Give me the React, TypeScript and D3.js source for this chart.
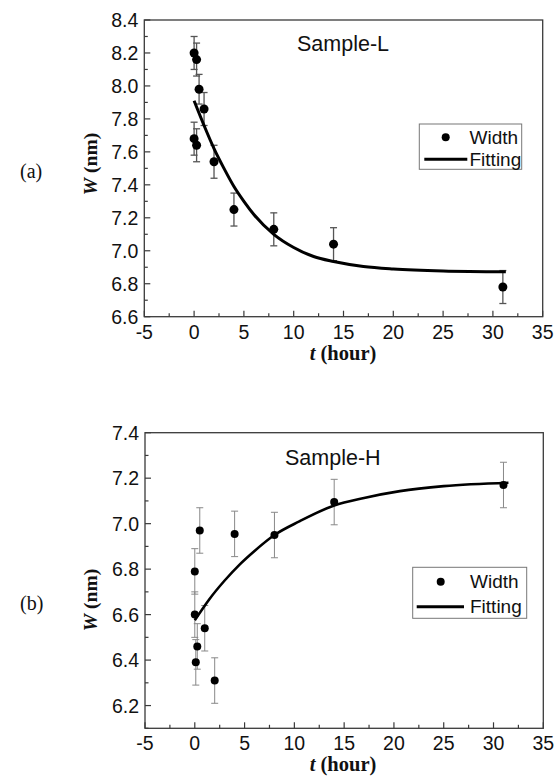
import React from "react";
import * as d3 from "d3";

// Sample-L measurements
const timesL = [0, 0.25, 0.5, 1, 0, 0.25, 2, 4, 8, 14, 31];
const widthL = [8.2, 8.16, 7.98, 7.86, 7.68, 7.64, 7.54, 7.25, 7.13, 7.04, 6.78];
const errL = [0.1, 0.1, 0.09, 0.1, 0.1, 0.1, 0.1, 0.1, 0.1, 0.1, 0.1];
// fitted curve
const fitTimesL = [0, 1, 2, 3, 4, 5, 6, 8, 10, 12, 14, 17, 20, 25, 31.3];
const fitL = [7.91, 7.76, 7.62, 7.5, 7.39, 7.3, 7.22, 7.1, 7.02, 6.965, 6.935, 6.905, 6.89, 6.878, 6.873];

// Sample-H measurements
const timesH = [0, 0.5, 4, 8, 14, 31, 0, 0.25, 0.1, 1, 2];
const widthH = [6.79, 6.97, 6.955, 6.95, 7.095, 7.17, 6.6, 6.46, 6.39, 6.54, 6.31];
const errH = [0.1, 0.1, 0.1, 0.1, 0.1, 0.1, 0.1, 0.1, 0.1, 0.1, 0.1];
const fitTimesH = [0, 1.5, 3, 4.5, 6, 8, 10.5, 14, 17, 20.6, 25, 31.5];
const fitH = [6.575, 6.67, 6.75, 6.82, 6.88, 6.95, 7.01, 7.08, 7.113, 7.143, 7.165, 7.18];

const xTicks = [-5, 0, 5, 10, 15, 20, 25, 30, 35];
const yTicksL = [6.6, 6.8, 7.0, 7.2, 7.4, 7.6, 7.8, 8.0, 8.2, 8.4];
const yTicksH = [6.2, 6.4, 6.6, 6.8, 7.0, 7.2, 7.4];

const SANS = "'Liberation Sans', Arial, sans-serif";
const SERIF = "'Liberation Serif', 'Times New Roman', serif";
const AXIS = "#3a3a3a";

type PanelProps = {
  box: { left: number; right: number; top: number; bottom: number };
  yDomain: [number, number];
  yTicks: number[];
  times: number[];
  widths: number[];
  errs: number[];
  fitTimes: number[];
  fit: number[];
  title: string;
  titlePos: [number, number];
  legend: { x0: number; y0: number; x1: number; y1: number; dot: [number, number]; line: [number, number, number]; textX: number; wY: number; fY: number };
  letter: string;
  letterPos: [number, number];
  yTitleCenter: number;
  dotR: number;
  errColor: string;
  errWidth: number;
  fitWidth: number;
};

function Panel(p: PanelProps) {
  const { box } = p;
  const x = d3.scaleLinear().domain([-5, 35]).range([box.left, box.right]);
  const y = d3.scaleLinear().domain(p.yDomain).range([box.bottom, box.top]);

  const minorX = d3.range(-5, 35.01, 2.5);
  const minorY = d3.range(Math.round(p.yDomain[0] * 10), Math.round(p.yDomain[1] * 10) + 1).map((v) => v / 10);

  const line = d3
    .line<number>()
    .x((d, i) => x(p.fitTimes[i]))
    .y((d) => y(d))
    .curve(d3.curveMonotoneX);

  return (
    <g>
      {/* frame */}
      <rect x={box.left} y={box.top} width={box.right - box.left} height={box.bottom - box.top} fill="none" stroke={AXIS} strokeWidth={1.3} />
      {minorX.map((t) => {
        const major = xTicks.includes(t);
        return <line key={"mx" + t} x1={x(t)} x2={x(t)} y1={box.bottom} y2={box.bottom - (major ? 6 : 3.5)} stroke={AXIS} strokeWidth={1.2} />;
      })}
      {minorY.map((v) => {
        const major = p.yTicks.some((t) => Math.abs(t - v) < 1e-6);
        return <line key={"my" + v} x1={box.left} x2={box.left + (major ? 6 : 3.5)} y1={y(v)} y2={y(v)} stroke={AXIS} strokeWidth={1.2} />;
      })}
      {xTicks.map((t) => (
        <text key={"xl" + t} x={x(t)} y={box.bottom + 22} textAnchor="middle" fontFamily={SANS} fontSize={19.5} fill="#111">
          {t}
        </text>
      ))}
      {p.yTicks.map((v) => (
        <text key={"yl" + v} x={box.left - 6} y={y(v) + 7} textAnchor="end" fontFamily={SANS} fontSize={19.5} fill="#111">
          {d3.format(".1f")(v)}
        </text>
      ))}
      {/* axis titles */}
      <text x={343} y={box.bottom + 43} textAnchor="middle" fontFamily={SERIF} fontWeight="bold" fontSize={20.5} fill="#111">
        <tspan fontStyle="italic">t</tspan> (hour)
      </text>
      <text transform={`translate(97,${p.yTitleCenter}) rotate(-90)`} textAnchor="middle" fontFamily={SERIF} fontWeight="bold" fontSize={19.5} fill="#111">
        <tspan fontStyle="italic">W</tspan> (nm)
      </text>
      <text x={p.letterPos[0]} y={p.letterPos[1]} fontFamily={SERIF} fontSize={20} fill="#111">
        {p.letter}
      </text>
      <text x={p.titlePos[0]} y={p.titlePos[1]} fontFamily={SANS} fontSize={21.5} fill="#111">
        {p.title}
      </text>

      {/* error bars */}
      {p.times.map((t, i) => {
        const cx = x(t);
        const yTop = y(p.widths[i] + p.errs[i]);
        const yBot = y(p.widths[i] - p.errs[i]);
        return (
          <g key={"e" + i} stroke={p.errColor} strokeWidth={p.errWidth}>
            <line x1={cx} x2={cx} y1={yTop} y2={yBot} />
            <line x1={cx - 3.5} x2={cx + 3.5} y1={yTop} y2={yTop} />
            <line x1={cx - 3.5} x2={cx + 3.5} y1={yBot} y2={yBot} />
          </g>
        );
      })}
      {/* fit */}
      <path d={line(p.fit) || ""} fill="none" stroke="#000" strokeWidth={p.fitWidth} />
      {/* points */}
      {p.times.map((t, i) => (
        <circle key={"p" + i} cx={x(t)} cy={y(p.widths[i])} r={p.dotR} fill="#000" />
      ))}

      {/* legend */}
      <rect x={p.legend.x0} y={p.legend.y0} width={p.legend.x1 - p.legend.x0} height={p.legend.y1 - p.legend.y0} fill="#fff" stroke="#777" strokeWidth={1} />
      <circle cx={p.legend.dot[0]} cy={p.legend.dot[1]} r={4} fill="#000" />
      <line x1={p.legend.line[0]} x2={p.legend.line[1]} y1={p.legend.line[2]} y2={p.legend.line[2]} stroke="#000" strokeWidth={3} />
      <text x={p.legend.textX} y={p.legend.wY} fontFamily={SANS} fontSize={19} fill="#111">
        Width
      </text>
      <text x={p.legend.textX} y={p.legend.fY} fontFamily={SANS} fontSize={19} fill="#111">
        Fitting
      </text>
    </g>
  );
}

export default function App() {
  return (
    <svg width={558} height={781} style={{ position: "absolute", left: 0, top: 0, background: "#fff" }}>
      <Panel
        box={{ left: 144.3, right: 542.7, top: 20, bottom: 316.7 }}
        yDomain={[6.6, 8.4]}
        yTicks={yTicksL}
        times={timesL}
        widths={widthL}
        errs={errL}
        fitTimes={fitTimesL}
        fit={fitL}
        title="Sample-L"
        titlePos={[297, 51]}
        legend={{ x0: 419.3, y0: 124, x1: 521.7, y1: 169.3, dot: [445.7, 137.3], line: [424.3, 467.3, 159.3], textX: 469.5, wY: 144, fY: 166 }}
        letter="(a)"
        letterPos={[20, 178]}
        yTitleCenter={164}
        dotR={4.5}
        errColor="#555"
        errWidth={1.3}
        fitWidth={3}
      />
      <Panel
        box={{ left: 145, right: 543.3, top: 432.7, bottom: 728.3 }}
        yDomain={[6.1, 7.4]}
        yTicks={yTicksH}
        times={timesH}
        widths={widthH}
        errs={errH}
        fitTimes={fitTimesH}
        fit={fitH}
        title="Sample-H"
        titlePos={[285, 465]}
        legend={{ x0: 412.7, y0: 567.3, x1: 526.7, y1: 618.3, dot: [440.7, 581.7], line: [416.7, 464, 606.7], textX: 470, wY: 588.3, fY: 613 }}
        letter="(b)"
        letterPos={[20, 610]}
        yTitleCenter={600}
        dotR={4}
        errColor="#888"
        errWidth={1}
        fitWidth={2.6}
      />
    </svg>
  );
}
